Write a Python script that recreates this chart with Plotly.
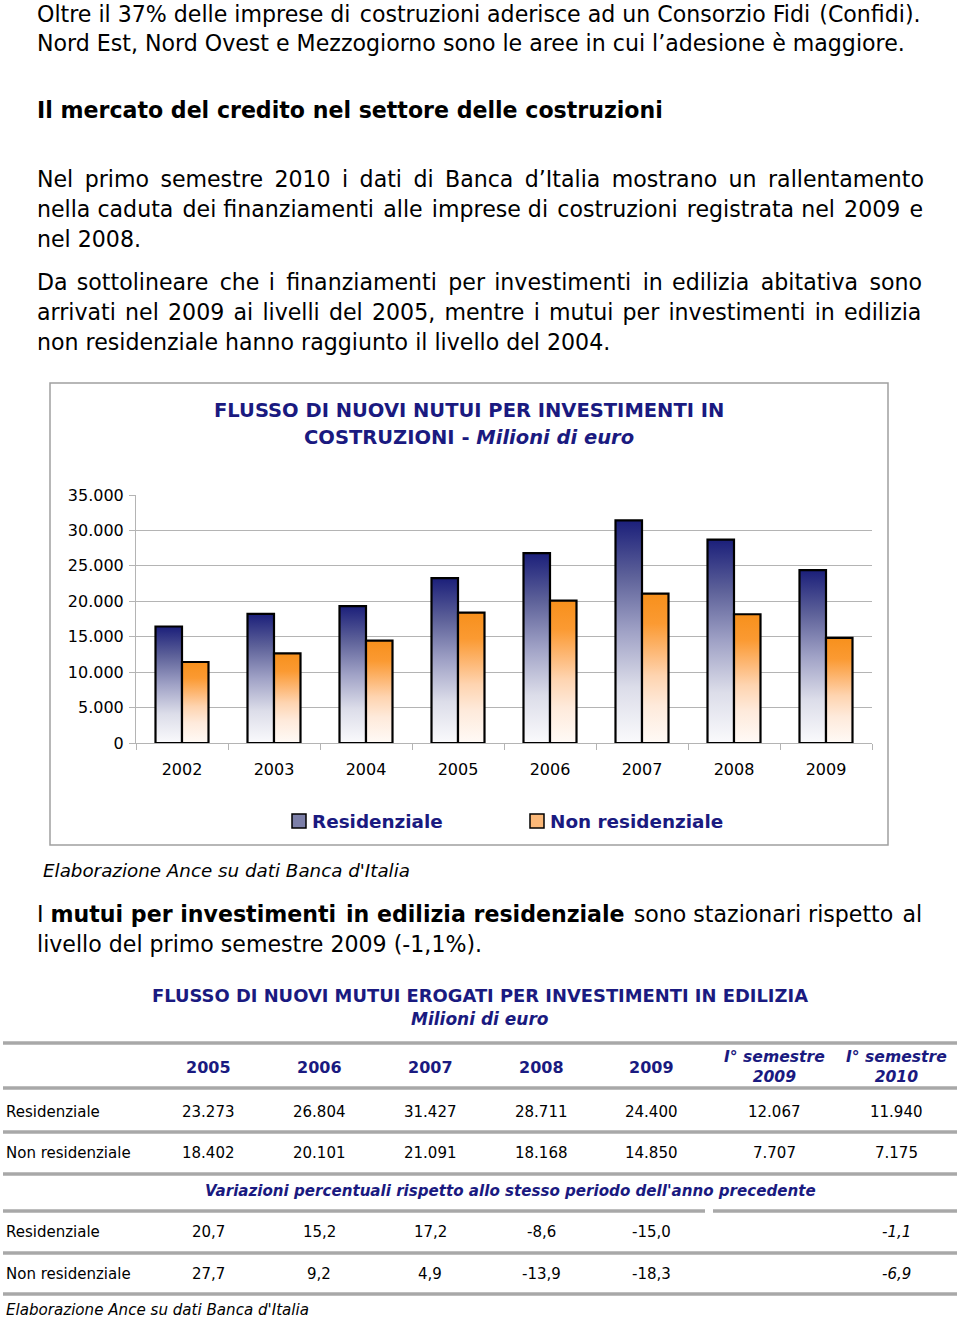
import plotly.graph_objects as go

# ---------------- data ----------------
anni_grafico = ["2002", "2003", "2004", "2005", "2006", "2007", "2008", "2009"]
residenziale = [16440, 18230, 19320, 23273, 26804, 31427, 28711, 24400]
non_residenziale = [11430, 12660, 14450, 18402, 20101, 21091, 18168, 14850]
y_tick_vals = [0, 5000, 10000, 15000, 20000, 25000, 30000, 35000]
y_tick_text = ["0", "5.000", "10.000", "15.000", "20.000", "25.000", "30.000", "35.000"]

tab_colonne = ["2005", "2006", "2007", "2008", "2009", "I° semestre<br>2009", "I° semestre<br>2010"]
tab_res = ["23.273", "26.804", "31.427", "28.711", "24.400", "12.067", "11.940"]
tab_nonres = ["18.402", "20.101", "21.091", "18.168", "14.850", "7.707", "7.175"]
var_res = ["20,7", "15,2", "17,2", "-8,6", "-15,0", "", "-1,1"]
var_nonres = ["27,7", "9,2", "4,9", "-13,9", "-18,3", "", "-6,9"]

# ---------------- styling ----------------
W, H = 960, 1320
FONT = "DejaVu Sans"
NAVY = "#1a1a80"
GRID = "#b4b4b4"
RULE = "#a8a8a8"


def px_x(x):
    return x / W


def px_y(y):
    return 1 - y / H


fig = go.Figure()

# gradient bars
BW = 0.288
res_scale = [[0, "#fafafc"], [0.25, "#dcdde9"], [0.5, "#a0a2c6"], [0.75, "#5d6199"], [1, "#1b1f7a"]]
non_scale = [[0, "#fffaf6"], [0.25, "#feeadb"], [0.45, "#fed4b0"], [0.6, "#fdba7a"], [0.8, "#fb9a32"], [1, "#f7901c"]]
for i, (r, n) in enumerate(zip(residenziale, non_residenziale)):
    fig.add_trace(go.Scatter(
        x=[i - BW, i - BW, i, i, i - BW], y=[0, r, r, 0, 0],
        mode="lines", fill="toself", line=dict(color="black", width=2.2),
        fillgradient=dict(type="vertical", colorscale=res_scale, start=0, stop=r),
        name="Residenziale", showlegend=False, hoverinfo="skip"))
    fig.add_trace(go.Scatter(
        x=[i, i, i + BW, i + BW, i], y=[0, n, n, 0, 0],
        mode="lines", fill="toself", line=dict(color="black", width=2.2),
        fillgradient=dict(type="vertical", colorscale=non_scale, start=0, stop=n),
        name="Non residenziale", showlegend=False, hoverinfo="skip"))

fig.update_layout(
    width=W, height=H, margin=dict(l=0, r=0, t=0, b=0, pad=0, autoexpand=False),
    paper_bgcolor="white", plot_bgcolor="white",
    font=dict(family=FONT, color="black"),
    showlegend=False,
    xaxis=dict(domain=[px_x(136), px_x(872)], range=[-0.5, 7.5], automargin=False,
               tickvals=list(range(len(anni_grafico))), ticktext=anni_grafico,
               ticks="", showgrid=False, zeroline=False,
               showline=True, linecolor=GRID, linewidth=1,
               tickfont=dict(size=16, family=FONT, color="black"),
               ticklabelstandoff=12,
               minor=dict(tickvals=[k - 0.5 for k in range(len(anni_grafico) + 1)],
                          ticks="outside", ticklen=6, tickcolor=GRID, showgrid=False)),
    yaxis=dict(domain=[px_y(743), px_y(495)], range=[0, 35000], automargin=False,
               tickvals=y_tick_vals, ticktext=y_tick_text,
               showgrid=True, gridcolor=GRID, gridwidth=1, zeroline=False,
               showline=True, linecolor=GRID, linewidth=1,
               ticks="outside", ticklen=6, tickcolor=GRID, ticklabelstandoff=2,
               tickfont=dict(size=16, family=FONT, color="black")),
)

shapes = []
ann = []


def text(x, y, s, size, anchor="left", color="black", bold=False, italic=False):
    if bold:
        s = "<b>" + s + "</b>"
    if italic:
        s = "<i>" + s + "</i>"
    ann.append(dict(x=px_x(x), y=px_y(y), xref="paper", yref="paper", text=s,
                    showarrow=False, xanchor=anchor, yanchor="middle",
                    font=dict(size=size, family=FONT, color=color)))


def justify(s, n_hair):
    """Widen inter-word gaps with n_hair hair spaces (emulates justified text)."""
    words = s.split(" ")
    gaps = len(words) - 1
    out = words[0]
    for k in range(gaps):
        c = (k + 1) * n_hair // gaps - k * n_hair // gaps
        out += " " + "\u200a" * c + words[k + 1]
    return out


# top paragraphs
BODY = 22.1
LX = 35
text(LX, 14, justify("Oltre il 37% delle imprese di costruzioni aderisce ad un Consorzio Fidi (Confidi).", 2), BODY)
text(LX, 43, "Nord Est, Nord Ovest e Mezzogiorno sono le aree in cui l’adesione è maggiore.", BODY)
text(LX, 110, "Il mercato del credito nel settore delle costruzioni", BODY, bold=True)
text(LX, 179, justify("Nel primo semestre 2010 i dati di Banca d’Italia mostrano un rallentamento", 22), BODY)
text(LX, 209, justify("nella caduta dei finanziamenti alle imprese di costruzioni registrata nel 2009 e", 7), BODY)
text(LX, 239, "nel 2008.", BODY)
text(LX, 282, justify("Da sottolineare che i finanziamenti per investimenti in edilizia abitativa sono", 16), BODY)
text(LX, 312, justify("arrivati nel 2009 ai livelli del 2005, mentre i mutui per investimenti in edilizia", 13), BODY)
text(LX, 342, "non residenziale hanno raggiunto il livello del 2004.", BODY)

# chart frame and title
shapes.append(dict(type="rect", xref="paper", yref="paper",
                   x0=px_x(50), x1=px_x(888), y0=px_y(845), y1=px_y(383),
                   line=dict(color="#a0a0a0", width=1.5), fillcolor="rgba(0,0,0,0)", layer="below"))
text(469, 411, "FLUSSO DI NUOVI NUTUI PER INVESTIMENTI IN", 19.5, anchor="center", color=NAVY, bold=True)
text(469, 438, "<b>COSTRUZIONI - </b><b><i>Milioni di euro</i></b>", 19.5, anchor="center", color=NAVY)

# legend (manual)
for x0, c, lab in [(292, "#7c7fa8", "Residenziale"), (530, "#fbb878", "Non residenziale")]:
    shapes.append(dict(type="rect", xref="paper", yref="paper",
                       x0=px_x(x0), x1=px_x(x0 + 14), y0=px_y(828), y1=px_y(814),
                       line=dict(color="black", width=1.5), fillcolor=c))
    text(x0 + 18, 821, lab, 18.4, color=NAVY, bold=True)

text(41, 871, "Elaborazione Ance su dati Banca d'Italia", 18.3, italic=True)

text(LX, 914, justify("I <b>mutui per investimenti in edilizia residenziale</b> sono stazionari rispetto al", 3), BODY)
text(LX, 944, "livello del primo semestre 2009 (-1,1%).", BODY)

# table
text(480, 995, "FLUSSO DI NUOVI MUTUI EROGATI PER INVESTIMENTI IN EDILIZIA", 17.9, anchor="center", color=NAVY, bold=True)
text(480, 1019, "<b><i>Milioni di euro</i></b>", 17, anchor="center", color=NAVY)

col_x = [208, 319, 430, 541, 651, 774, 896]


def rule(y, x0=3, x1=957):
    shapes.append(dict(type="line", xref="paper", yref="paper",
                       x0=px_x(x0), x1=px_x(x1), y0=px_y(y), y1=px_y(y),
                       line=dict(color=RULE, width=3.5)))


rule(1043)
for cx, h in zip(col_x, tab_colonne):
    italic = "semestre" in h
    s = "<b><i>" + h + "</i></b>" if italic else "<b>" + h + "</b>"
    text(cx, 1067, s, 15.6 if italic else 16, anchor="center", color=NAVY)
rule(1088)
TAB = 15
TX = 4
text(TX, 1112, "Residenziale", TAB)
for cx, v in zip(col_x, tab_res):
    text(cx, 1112, v, TAB, anchor="center")
rule(1132)
text(TX, 1153, "Non residenziale", TAB)
for cx, v in zip(col_x, tab_nonres):
    text(cx, 1153, v, TAB, anchor="center")
rule(1174)
text(510, 1191, "<b><i>Variazioni percentuali rispetto allo stesso periodo dell'anno precedente</i></b>",
     15.1, anchor="center", color=NAVY)
rule(1211, 3, 705)
rule(1211, 713, 957)
text(TX, 1232, "Residenziale", TAB)
for k, (cx, v) in enumerate(zip(col_x, var_res)):
    text(cx, 1232, v, TAB, anchor="center", italic=(k >= 5))
rule(1253)
text(TX, 1274, "Non residenziale", TAB)
for k, (cx, v) in enumerate(zip(col_x, var_nonres)):
    text(cx, 1274, v, TAB, anchor="center", italic=(k >= 5))
rule(1294)
text(TX, 1310, "Elaborazione Ance su dati Banca d'Italia", 15.1, italic=True)

fig.update_layout(shapes=shapes, annotations=ann)
fig.write_html(
    "out.html",
    config={"displayModeBar": False},
    post_script=(
        "document.documentElement.style.cssText='margin:0;padding:0;overflow:hidden;height:1320px;';"
        "document.body.style.cssText='margin:0;padding:0;overflow:hidden;height:1320px;';"
        "var gd=document.getElementById('{plot_id}');"
        "gd.style.position='absolute';gd.style.top='0px';gd.style.left='0px';"
    ),
)
